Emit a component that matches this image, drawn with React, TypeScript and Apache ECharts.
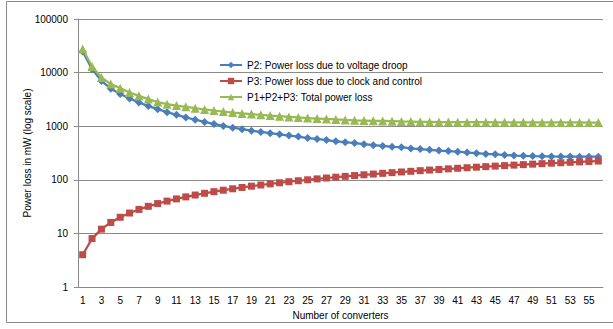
import React, { useEffect, useRef } from "react";
import * as echarts from "echarts";

const categories: string[] = Array.from({ length: 56 }, (_, i) => String(i + 1));

const p2VoltageDroop: number[] = [
  24800, 11600, 7000, 5000, 4000, 3280, 2760, 2370, 2080, 1830,
  1630, 1460, 1320, 1200, 1100, 1010, 940, 880, 825, 780,
  740, 705, 670, 640, 600, 578, 552, 522, 502, 485,
  462, 443, 428, 412, 405, 385, 374, 362, 352, 343,
  334, 322, 313, 304, 299, 291, 284, 280, 277, 275,
  273, 272, 271, 270, 270, 270,
];

const p3ClockControl: number[] = [
  4, 8, 12, 16, 20, 24, 28, 32, 36, 40,
  44, 48, 52, 56, 60, 64, 68, 72, 76, 80,
  84, 88, 92, 96, 100, 104, 108, 112, 116, 120,
  124, 128, 132, 136, 140, 144, 148, 152, 156, 160,
  164, 168, 172, 176, 180, 184, 188, 192, 196, 200,
  204, 208, 212, 216, 220, 224,
];

const totalLoss: number[] = [
  27500, 13000, 8100, 6100, 5130, 4250, 3680, 3200, 2820, 2580,
  2430, 2300, 2170, 2050, 1960, 1880, 1800, 1730, 1680, 1630,
  1580, 1540, 1490, 1455, 1415, 1390, 1365, 1335, 1310, 1290,
  1275, 1260, 1255, 1240, 1225, 1220, 1205, 1200, 1195, 1192,
  1190, 1188, 1186, 1185, 1183, 1182, 1180, 1180, 1178, 1177,
  1176, 1175, 1174, 1173, 1172, 1170,
];

const seriesNames: string[] = [
  "P2: Power loss due to voltage droop",
  "P3: Power loss due to clock and control",
  "P1+P2+P3: Total power loss",
];

const FONT = "'Liberation Sans', Arial, sans-serif";
const FS = 10;

export default function App() {
  const ref = useRef<HTMLDivElement>(null);

  useEffect(() => {
    if (!ref.current) return;
    const chart = echarts.init(ref.current, undefined, { renderer: "svg" });
    const mk = (name: string, data: number[], color: string, symbol: string, size: number) => ({
      name,
      type: "line",
      data,
      symbol,
      symbolSize: size,
      showSymbol: true,
      showAllSymbol: true,
      lineStyle: { color, width: 2.25 },
      itemStyle: { color },
      emphasis: { disabled: true },
    });
    chart.setOption({
      animation: false,
      backgroundColor: "#ffffff",
      textStyle: { fontFamily: FONT },
      graphic: [
        {
          type: "rect",
          shape: { x: 6.5, y: 1.5, width: 640, height: 321 },
          style: { fill: "none", stroke: "#8a8a8a", lineWidth: 1 },
          silent: true,
          z: -10,
        },
      ],
      legend: {
        orient: "vertical",
        left: 214,
        top: 55,
        itemGap: 6,
        itemWidth: 22,
        itemHeight: 8,
        textStyle: { fontFamily: FONT, fontSize: FS, color: "#000" },
        data: seriesNames,
      },
      grid: { left: 78, right: 10, top: 19, bottom: 42, containLabel: false },
      xAxis: {
        type: "category",
        data: categories,
        boundaryGap: true,
        name: "Number of converters",
        nameLocation: "middle",
        nameGap: 23,
        nameMoveOverlap: false,
        nameTextStyle: { fontFamily: FONT, fontSize: FS, color: "#000" },
        axisLine: { lineStyle: { color: "#8a8a8a", width: 1 } },
        axisTick: { show: false },
        axisLabel: { interval: 1, fontFamily: FONT, fontSize: FS, color: "#000", margin: 8 },
      },
      yAxis: {
        type: "log",
        logBase: 10,
        min: 1,
        max: 100000,
        name: "Power loss in mW (log scale)",
        nameLocation: "middle",
        nameGap: 46,
        nameMoveOverlap: false,
        nameTextStyle: { fontFamily: FONT, fontSize: FS, color: "#000" },
        axisLine: { show: true, lineStyle: { color: "#8a8a8a", width: 1 } },
        axisTick: { show: true, length: 4, lineStyle: { color: "#8a8a8a" } },
        splitLine: { lineStyle: { color: "#8a8a8a", width: 1 } },
        axisLabel: {
          fontFamily: FONT,
          fontSize: FS,
          color: "#000",
          margin: 10,
          formatter: (v: number) => String(Math.round(v)),
        },
      },
      series: [
        mk(seriesNames[0], p2VoltageDroop, "#4A7EBB", "diamond", 8),
        mk(seriesNames[1], p3ClockControl, "#BE4B48", "rect", 7),
        mk(seriesNames[2], totalLoss, "#98B954", "triangle", 9),
      ],
    });
    return () => chart.dispose();
  }, []);

  return (
    <div
      ref={ref}
      style={{ position: "fixed", left: 0, top: 0, width: 613, height: 329, background: "#fff" }}
    />
  );
}
